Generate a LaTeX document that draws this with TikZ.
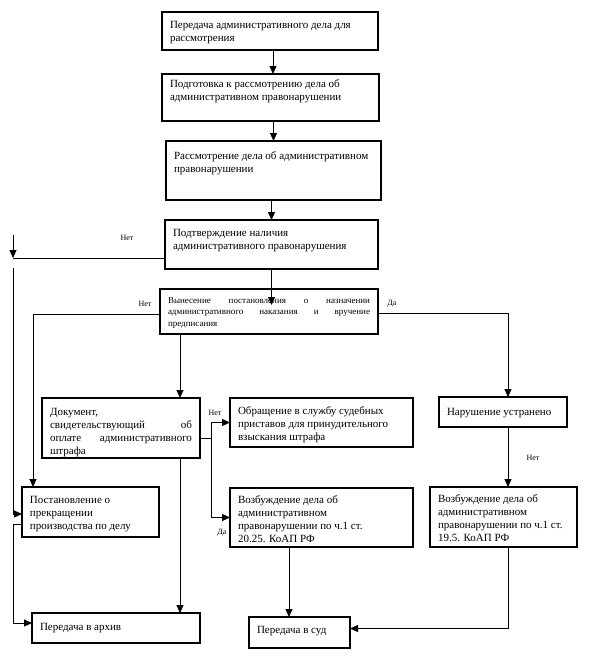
\documentclass[tikz,border=0pt]{standalone}
\usepackage{fontspec}
\setmainfont{Liberation Serif}
\usetikzlibrary{arrows.meta,calc}
\tikzset{
  boxst/.style={draw, line width=1.2pt, inner xsep=8pt, inner ysep=0pt, outer sep=0pt,
    font=\fontsize{11}{13}\selectfont},
  conn/.style={line width=1pt},
  arr/.style={conn, -{Triangle[length=8pt,width=7pt]}},
  lbl/.style={font=\fontsize{8}{9}\selectfont, inner sep=0pt}
}
\newcommand\bx[8][]{%
  \node[boxst,anchor=north west,#1] (#2) at (#3,#4)
    {\parbox[b][#6pt][t]{\dimexpr#5pt-16pt\relax}{\raggedright\vspace*{#7pt}\strut#8}};}
\newcommand\jl[1]{\makebox[\linewidth][s]{#1}}
\begin{document}
\begin{tikzpicture}[x=1pt,y=-1pt]
\useasboundingbox (0,0) rectangle (591,662);
% boxes
\bx{b1}{162}{12}{216}{38}{7}{Передача административного дела для\\рассмотрения}
\bx{b2}{162}{74}{217}{47}{4}{Подготовка к рассмотрению дела об\\административном правонарушении}
\bx{b3}{166}{141}{215}{59}{9}{Рассмотрение дела об административном\\правонарушении}
\bx{b4}{165}{220}{213}{49}{7}{Подтверждение наличия\\административного правонарушения}
\bx[font=\fontsize{9}{11.5}\selectfont]{b5}{160}{289}{218}{45}{6}{\jl{Вынесение постановления о назначении}\\\jl{административного наказания и вручение}\\предписания}
\bx{doc}{42}{398}{158}{60}{8}{Документ,\\\jl{свидетельствующий об}\\\jl{оплате административного}\\штрафа}
\bx{post}{22}{487}{137}{50}{7}{Постановление о\\прекращении\\производства по делу}
\bx{obr}{230}{398}{183}{49}{7}{Обращение в службу судебных\\приставов для принудительного\\взыскания штрафа}
\bx{naru}{439}{397}{128}{30}{9}{Нарушение устранено}
\bx{vozb1}{230}{488}{183}{59}{6}{Возбуждение дела об\\административном\\правонарушении по ч.1 ст.\\20.25. КоАП РФ}
\bx{vozb2}{430}{487}{147}{60}{6}{Возбуждение дела об\\административном\\правонарушении по ч.1 ст.\\19.5. КоАП РФ}
\bx{arch}{32}{613}{168}{30}{8}{Передача в архив}
\bx{sud}{249}{617}{101}{31}{7}{Передача в суд}
% main vertical flow
\draw[arr] ([xshift=3pt]b1.south) -- ([xshift=3pt]b1.south |- b2.north);
\draw[arr] ([xshift=3pt]b2.south) -- ([xshift=3pt]b2.south |- b3.north);
\draw[arr] ([xshift=-2pt]b3.south) -- ([xshift=-2pt]b3.south |- b4.north);
\coordinate (t5) at ($(b4.south)+(0,36)$);
\draw[arr] (b4.south) -- (t5);
% left "Нет" branch of b4
\coordinate (L0) at (13,235);
\coordinate (L1) at (13,258);
\coordinate (L2) at (13,268);
\draw[arr] (L0) -- (L1);
\draw[conn] ([yshift=11pt]b4.south west) -- (L1);
\draw[arr] (L2) |- ([yshift=-2pt]post.west);
\node[lbl] (n1) at (127,238) {Нет};
% branches of b5
\draw[arr] ([yshift=-3pt]b5.west) -| ([xshift=11pt]post.north west);
\node[lbl] (n2) at (145,304) {Нет};
\draw[arr] ([yshift=-2pt]b5.east) -| ([xshift=5pt]naru.north);
\node[lbl] (d1) at (392,304) {Да};
\coordinate (P) at ([xshift=59pt]doc.north);
\draw[arr] (b5.south -| P) -- (P);
% doc branches
\coordinate (J) at (211,438);
\draw[conn] (doc.east |- J) -- (J);
\draw[arr] (J) |- (obr.west);
\draw[arr] (J) |- (vozb1.west);
\node[lbl] (n3) at (215,413) {Нет};
\node[lbl] (d2) at (222,533) {Да};
\coordinate (Q) at ([xshift=59pt]doc.south);
\draw[arr] (Q) -- (Q |- arch.north);
% post to archive
\draw[arr] ([yshift=-12pt]post.west) -- ++(-9,0) |- ([yshift=5pt]arch.west);
% right branch
\draw[arr] ([xshift=5pt]naru.south) -- ([xshift=5pt]naru.south |- vozb2.north);
\node[lbl] (n4) at (533,458) {Нет};
% to court
\coordinate (R) at ([xshift=-32.5pt]vozb1.south);
\draw[arr] (R) -- (R |- sud.north);
\draw[arr] ([xshift=4.5pt]vozb2.south) |- ([yshift=4pt]sud.east);
\end{tikzpicture}
\end{document}
